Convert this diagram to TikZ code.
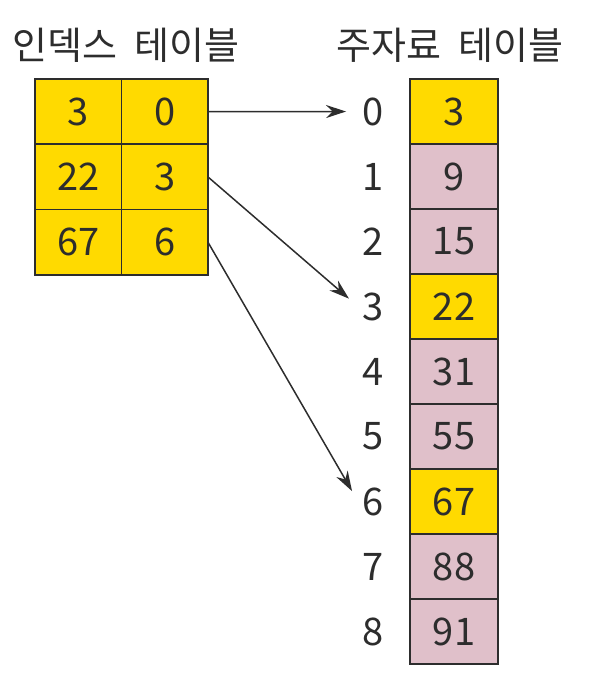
\documentclass[tikz,border=0pt]{standalone}
\usepackage{fontspec}
\setmainfont{Noto Sans CJK KR}
\usetikzlibrary{arrows.meta}
\definecolor{keyyellow}{RGB}{255,218,0}
\definecolor{datapink}{RGB}{224,192,202}
\definecolor{inkgray}{RGB}{45,45,45}

\begin{document}
\begin{tikzpicture}[x=0.5pt,y=-0.5pt,
    font=\fontsize{19}{23}\selectfont, text=inkgray,
    cell/.style={draw=inkgray, line width=0.8pt, minimum width=43.25pt,
        minimum height=32.6pt, inner sep=0pt, outer sep=0pt},
    slot/.style={inner sep=2pt},
    ptr/.style={-{Stealth[length=10pt,width=6.5pt]}, line width=0.75pt, inkgray, shorten >=6pt}]
    \useasboundingbox (0,0) rectangle (598,690);

    % titles
    \node (idxtitle) at (126,45) {인덱스\hspace{0.45em}테이블};
    \node (maintitle) at (450,45) {주자료\hspace{0.45em}테이블};

    % main data table with slot numbers
    \foreach \i/\v/\c in {0/3/keyyellow, 1/9/datapink, 2/15/datapink, 3/22/keyyellow,
        4/31/datapink, 5/55/datapink, 6/67/keyyellow, 7/88/datapink, 8/91/datapink} {
        \node[cell, fill=\c, minimum width=44pt, minimum height=32.5pt] (m\i) at (454,{79+65*(\i+0.5)}) {\v};
        \node[slot] (lab\i) at (373,{79+65*(\i+0.5)}) {\i};
    }

    % index table: key and slot
    \foreach \r/\k/\p in {0/3/0, 1/22/3, 2/67/6} {
        \node[cell, fill=keyyellow] (k\r) at (78.25,{79+65.3*(\r+0.5)}) {\k};
        \node[cell, fill=keyyellow] (p\r) at (164.75,{79+65.3*(\r+0.5)}) {\p};
        \draw[ptr] (p\r.east) -- (lab\p.west);
    }
\end{tikzpicture}
\end{document}
